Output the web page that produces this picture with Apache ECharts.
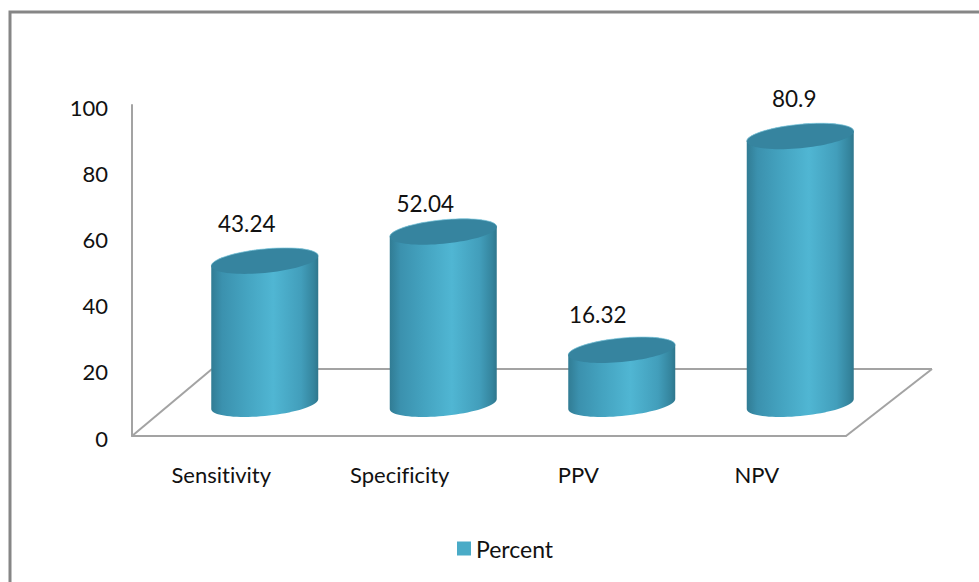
<!DOCTYPE html>
<html>
<head>
<meta charset="utf-8">
<style>
  html, body { margin: 0; padding: 0; background: #fff; }
  #chart { width: 979px; height: 582px; }
  #chart text { font-variant-ligatures: none; }
</style>
<script src="https://cdn.jsdelivr.net/npm/echarts@6/dist/echarts.min.js"></script>
</head>
<body>
<div id="chart"></div>
<script>
const categories = ['Sensitivity', 'Specificity', 'PPV', 'NPV'];
const percent = [43.24, 52.04, 16.32, 80.9];
const yTicks = [0, 20, 40, 60, 80, 100];

// Pseudo-3D floor and cylinder geometry, in pixels relative to the axes.
const FONT = 'Lato, Carlito, sans-serif';
const FLOOR_LEFT_DX = 80;
const FLOOR_RIGHT_DX = 86;
const FLOOR_DY = 67;
const CYL_DX = 43.5;
const CYL_DY = 32;
const CYL_RX = 53.5;
const CYL_RY = 12;
const CYL_TILT = 5;
// Label placement relative to each cylinder's top centre.
const LABEL_SHIFT = [[-18, -37], [-18, -28], [-24, -35], [-6, -38]];

const AXIS_GREY = '#a3a3a3';

function ellipsePoint(cx, cy, t) {
  return [
    cx + CYL_RX * Math.cos(t),
    cy - CYL_RY * Math.sin(t) - CYL_TILT * Math.cos(t)
  ];
}

function arc(cx, cy, from, to, steps) {
  const pts = [];
  for (let i = 0; i <= steps; i++) {
    pts.push(ellipsePoint(cx, cy, from + (to - from) * i / steps));
  }
  return pts;
}

function renderFloor(params) {
  const r = params.coordSys;
  const x0 = r.x, x1 = r.x + r.width, y0 = r.y + r.height, yb = y0 - FLOOR_DY;
  const line = (a, b, c, d) => ({
    type: 'line',
    shape: { x1: a, y1: b, x2: c, y2: d },
    style: { stroke: AXIS_GREY, lineWidth: 2 }
  });
  return {
    type: 'group',
    children: [
      line(x0, y0, x0 + FLOOR_LEFT_DX, yb),
      line(x0 + FLOOR_LEFT_DX, yb, x1 + FLOOR_RIGHT_DX, yb),
      line(x1 + FLOOR_RIGHT_DX, yb, x1, y0)
    ]
  };
}

function renderCylinder(params, api) {
  const i = api.value(0);
  const value = api.value(1);
  const base = api.coord([i, 0]);
  const top = api.coord([i, value]);
  const cx = base[0] + CYL_DX;
  const yBase = base[1] - CYL_DY;
  const yTop = top[1] - CYL_DY;

  const body = [
    ...arc(cx, yTop, Math.PI, 0, 40),
    ...arc(cx, yBase, 0, -Math.PI, 40)
  ];
  const shift = LABEL_SHIFT[i];

  return {
    type: 'group',
    children: [
      {
        type: 'polygon',
        shape: { points: body },
        style: {
          fill: new echarts.graphic.LinearGradient(0, 0, 1, 0, [
            { offset: 0, color: '#317c94' },
            { offset: 0.1, color: '#3b91ae' },
            { offset: 0.32, color: '#44a3c0' },
            { offset: 0.58, color: '#50b6d3' },
            { offset: 0.84, color: '#429ebb' },
            { offset: 0.96, color: '#34849d' },
            { offset: 1, color: '#2f768c' }
          ])
        }
      },
      {
        type: 'polygon',
        shape: { points: arc(cx, yTop, 0, Math.PI * 2, 80) },
        style: { fill: '#36849f' }
      },
      {
        // Pale rim along the far edge of the cap.
        type: 'polyline',
        shape: { points: arc(cx, yTop, 0.05, Math.PI - 0.05, 40) },
        style: { fill: 'none', stroke: '#8fd0e2', lineWidth: 1, opacity: 0.7 }
      },
      {
        type: 'text',
        style: {
          text: String(value),
          x: cx + shift[0],
          y: yTop + shift[1],
          align: 'center',
          verticalAlign: 'middle',
          fill: '#111',
          font: '22.5px ' + FONT
        }
      }
    ]
  };
}

const chart = echarts.init(document.getElementById('chart'), null, { renderer: 'svg' });

chart.setOption({
  animation: false,
  backgroundColor: '#fff',
  // The chart frame runs off the right and bottom of the page.
  graphic: [
    {
      type: 'polyline',
      silent: true,
      shape: { points: [[10, 582], [10, 12], [979, 12]] },
      style: { stroke: '#868686', fill: 'none', lineWidth: 3 }
    }
  ],
  grid: { left: 132, top: 105, width: 714, height: 331 },
  legend: {
    data: ['Percent'],
    left: 452,
    top: 532,
    icon: 'rect',
    itemWidth: 14,
    itemHeight: 14,
    itemGap: 8,
    textStyle: { fontFamily: FONT, fontSize: 23, color: '#111' },
    selectedMode: false
  },
  xAxis: {
    type: 'category',
    data: categories,
    axisLine: { show: true, lineStyle: { color: AXIS_GREY, width: 2 } },
    axisTick: { show: false },
    axisLabel: { fontFamily: FONT, fontSize: 22, color: '#111', margin: 27 },
    splitLine: { show: false }
  },
  yAxis: {
    type: 'value',
    min: yTicks[0],
    max: yTicks[yTicks.length - 1],
    interval: yTicks[1] - yTicks[0],
    axisLine: { show: true, lineStyle: { color: AXIS_GREY, width: 2 } },
    axisTick: { show: false },
    axisLabel: {
      color: '#111',
      margin: 24,
      formatter: '{tick|{value}}',
      rich: { tick: { fontFamily: FONT, fontSize: 22, color: '#111', padding: [4, 0, 0, 0] } }
    },
    splitLine: { show: false }
  },
  series: [
    {
      type: 'custom',
      silent: true,
      coordinateSystem: 'cartesian2d',
      renderItem: renderFloor,
      data: [[0, 0]],
      z: 1
    },
    {
      name: 'Percent',
      type: 'custom',
      coordinateSystem: 'cartesian2d',
      renderItem: renderCylinder,
      encode: { x: 0, y: 1 },
      itemStyle: { color: '#4aabc7' },
      data: percent.map((v, i) => [i, v]),
      z: 2
    }
  ]
});
</script>
</body>
</html>
